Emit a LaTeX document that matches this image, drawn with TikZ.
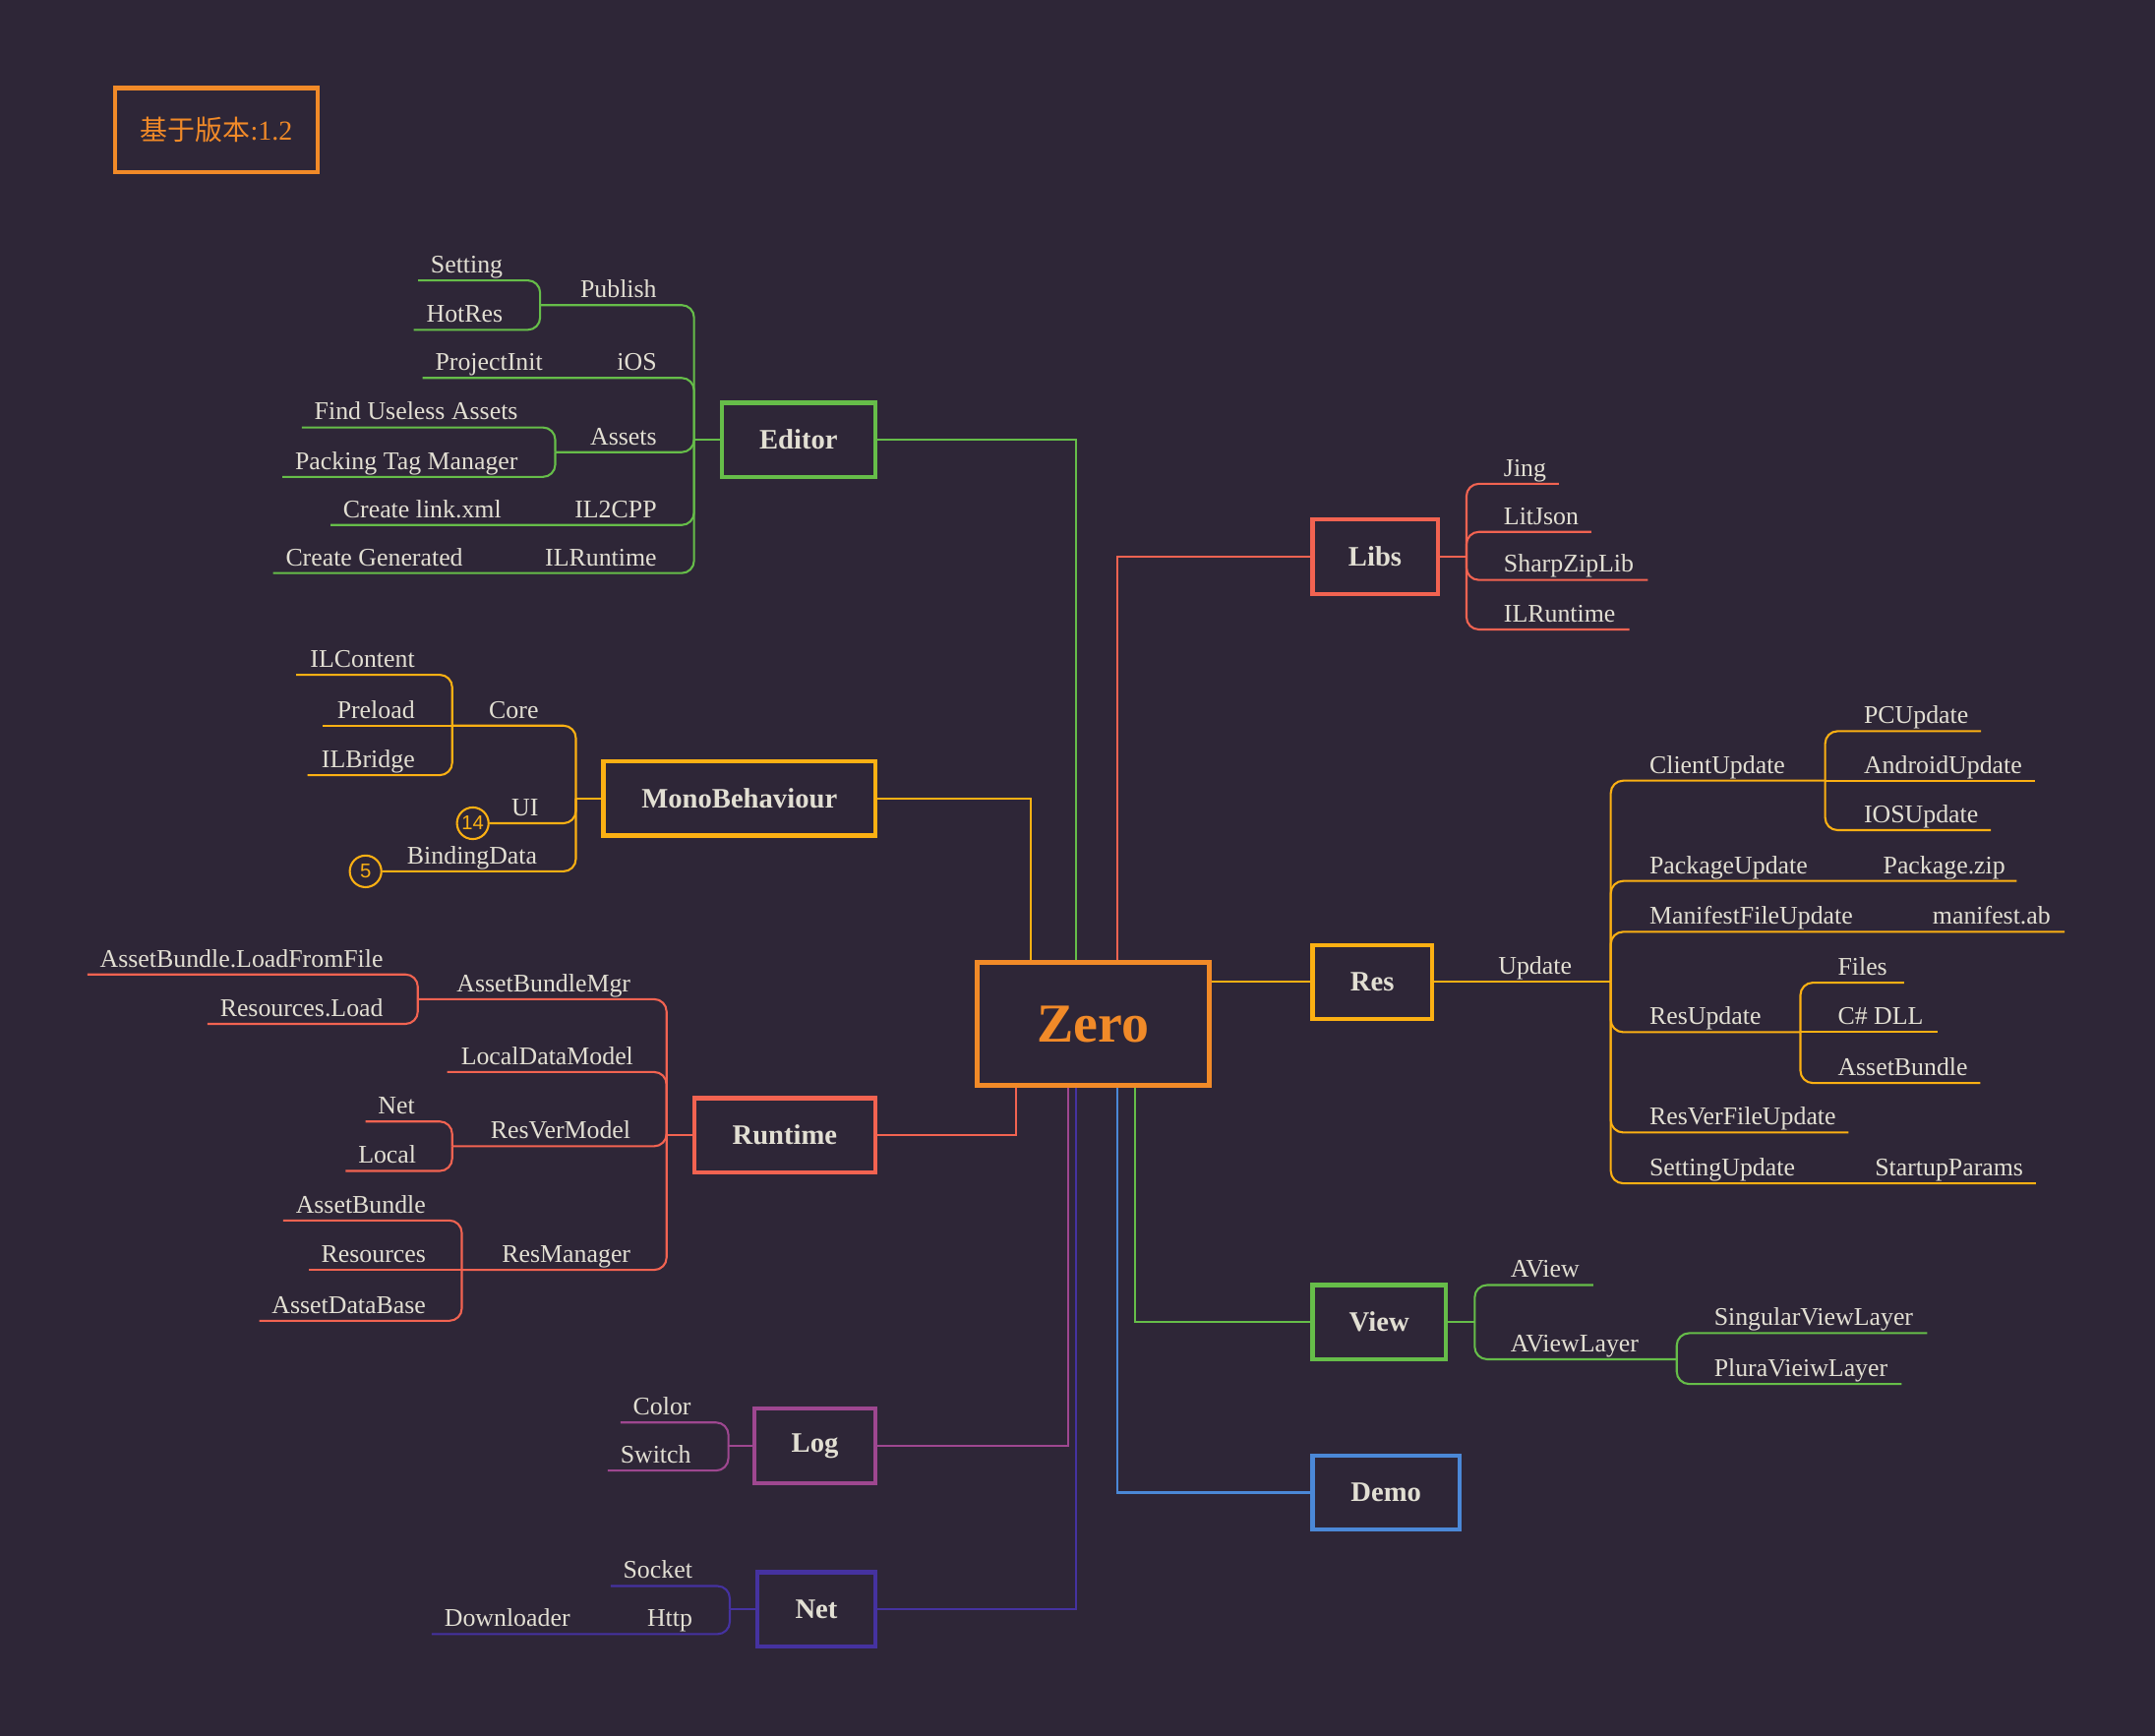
\documentclass[tikz,border=0pt]{standalone}
\usepackage{fontspec}
\setmainfont{Liberation Serif}
\newfontfamily\cjkf{Noto Sans CJK SC}
\newfontfamily\badgef{Liberation Sans}
\usetikzlibrary{calc}
\definecolor{bg}{HTML}{2E2637}
\definecolor{txt}{HTML}{E2DFD3}
\definecolor{cOrange}{HTML}{F18A28}
\definecolor{cGreen}{HTML}{66BD49}
\definecolor{cRed}{HTML}{F26351}
\definecolor{cYellow}{HTML}{FBB013}
\definecolor{cPurple}{HTML}{9E4790}
\definecolor{cIndigo}{HTML}{4532A0}
\definecolor{cBlue}{HTML}{4B88D7}
\begin{document}
\begin{tikzpicture}[x=1pt,y=-1pt,
  box/.style={draw, line width=3pt, inner sep=0pt, minimum height=54pt, text=txt, font=\fontsize{20.5}{24}\selectfont\bfseries},
  lbl/.style={text=txt, inner sep=0pt, font=\fontsize{18.5}{22}\selectfont},
  lL/.style={lbl, anchor=base east},
  lR/.style={lbl, anchor=base west},
  br/.style={line width=1.5pt, rounded corners=9pt},
  zc/.style={line width=1.5pt},
  badge/.style={circle, draw=cYellow, line width=1.5pt, minimum size=23pt, inner sep=0pt, text=cYellow, font=\badgef\fontsize{14.5}{14.5}\selectfont},
  ]
\fill[bg] (0,0) rectangle (1568,1263.1);
\useasboundingbox (0,0) rectangle (1568,1263.1);

% ---------- main nodes ----------
\node[draw=cOrange, line width=3pt, minimum width=147pt, minimum height=61pt, inner sep=0pt, text=cOrange, font=\fontsize{20}{24}\selectfont] (ver) at (157.5,94.5) {{\cjkf 基于版本}:1.2};
\node[box, draw=cOrange, line width=3.5pt, minimum width=169pt, minimum height=90pt, text=cOrange, font=\fontsize{40}{44}\selectfont\bfseries] (zero) at (795.5,745) {Zero};
\node[box, draw=cGreen, minimum width=112pt] (editor) at (581,320) {Editor};
\node[box, draw=cYellow, minimum width=198pt] (mono) at (538,581) {MonoBehaviour};
\node[box, draw=cRed, minimum width=132pt] (runtime) at (571,826) {Runtime};
\node[box, draw=cPurple, minimum width=88pt] (log) at (593,1052) {Log};
\node[box, draw=cIndigo, minimum width=86pt] (net) at (594,1171) {Net};
\node[box, draw=cRed, minimum width=91pt] (libs) at (1000.5,405) {Libs};
\node[box, draw=cYellow, minimum width=87pt] (res) at (998.5,714.5) {Res};
\node[box, draw=cGreen, minimum width=97pt] (view) at (1003.5,962) {View};
\node[box, draw=cBlue, minimum width=107pt] (demo) at (1008.5,1086) {Demo};

% ---------- connectors from Zero ----------
\draw[cGreen, zc] ([xshift=-12.5pt]zero.north) |- (editor.east);
\draw[cYellow, zc] ([xshift=-45.5pt]zero.north) |- (mono.east);
\draw[cRed, zc] ([xshift=17.5pt]zero.north) |- (libs.west);
\draw[cYellow, zc] (zero.east |- res.west) -- (res.west);
\draw[cRed, zc] ([xshift=-56.5pt]zero.south) |- (runtime.east);
\draw[cPurple, zc] ([xshift=-18.5pt]zero.south) |- (log.east);
\draw[cIndigo, zc] ([xshift=-12.5pt]zero.south) |- (net.east);
\draw[cBlue, zc] ([xshift=17.5pt]zero.south) |- (demo.west);
\draw[cGreen, zc] ([xshift=30.5pt]zero.south) |- (view.west);

% ---------- Editor ----------
\coordinate (eJ) at (505,320);
\draw[cGreen, br] (editor.west) -- (eJ);
\node[lL] (tPublish) at (478,216.5) {Publish};
\coordinate (ePub) at (393,222);
\draw[cGreen, br] (eJ) |- (ePub);
\node[lL] (tSetting) at (366,198.5) {Setting};
\node[lL] (tHotRes) at (366,234.5) {HotRes};
\draw[cGreen, br] (ePub) |- ($(tSetting.base west)+(-9,5.5)$);
\draw[cGreen, br] (ePub) |- ($(tHotRes.base west)+(-9,5.5)$);
\node[lL] (tiOS) at (478,269.5) {iOS};
\node[lL] (tProjectInit) at (395,269.5) {ProjectInit};
\draw[cGreen, br] (eJ) |- ($(tProjectInit.base west)+(-9,5.5)$);
\node[lL] (tAssets) at (478,323.5) {Assets};
\coordinate (eAs) at (404,329);
\draw[cGreen, br] (eJ) |- (eAs);
\node[lL] (tFind) at (377,305.5) {Find Useless Assets};
\node[lL] (tPack) at (377,341.5) {Packing Tag Manager};
\draw[cGreen, br] (eAs) |- ($(tFind.base west)+(-9,5.5)$);
\draw[cGreen, br] (eAs) |- ($(tPack.base west)+(-9,5.5)$);
\node[lL] (tIL2CPP) at (478,376.5) {IL2CPP};
\node[lL] (tLink) at (365,376.5) {Create link.xml};
\draw[cGreen, br] (eJ) |- ($(tLink.base west)+(-9,5.5)$);
\node[lL] (tILR) at (478,411.5) {ILRuntime};
\node[lL] (tGen) at (337,411.5) {Create Generated};
\draw[cGreen, br] (eJ) |- ($(tGen.base west)+(-9,5.5)$);

% ---------- MonoBehaviour ----------
\coordinate (mJ) at (419,581);
\draw[cYellow, br] (mono.west) -- (mJ);
\node[lL] (tCore) at (392,522.5) {Core};
\coordinate (mCore) at (329,528);
\draw[cYellow, br] (mJ) |- (mCore);
\node[lL] (tILContent) at (302,485.5) {ILContent};
\node[lL] (tPreload) at (302,522.5) {Preload};
\node[lL] (tILBridge) at (302,558.5) {ILBridge};
\draw[cYellow, br] (mCore) |- ($(tILContent.base west)+(-10,5.5)$);
\draw[cYellow, br] (mCore) -- ($(tPreload.base west)+(-10,5.5)$);
\draw[cYellow, br] (mCore) |- ($(tILBridge.base west)+(-10,5.5)$);
\node[lL] (tUI) at (392,593.5) {UI};
\node[badge] (b14) at (344,599) {14};
\draw[cYellow, br] (mJ) |- (b14.east);
\node[lL] (tBinding) at (391,628.5) {BindingData};
\node[badge] (b5) at (266,634) {5};
\draw[cYellow, br] (mJ) |- (b5.east);

% ---------- Runtime ----------
\coordinate (rJ) at (485,826);
\draw[cRed, br] (runtime.west) -- (rJ);
\node[lL] (tABM) at (459,721.5) {AssetBundleMgr};
\coordinate (rABM) at (304,727);
\draw[cRed, br] (rJ) |- (rABM);
\node[lL] (tLFF) at (279,703.5) {AssetBundle.LoadFromFile};
\node[lL] (tRL) at (279,739.5) {Resources.Load};
\draw[cRed, br] (rABM) |- ($(tLFF.base west)+(-9,5.5)$);
\draw[cRed, br] (rABM) |- ($(tRL.base west)+(-9,5.5)$);
\node[lL] (tLDM) at (461,774.5) {LocalDataModel};
\draw[cRed, br] (rJ) |- ($(tLDM.base west)+(-10,5.5)$);
\node[lL] (tRVM) at (459,828.5) {ResVerModel};
\coordinate (rRV) at (329,834);
\draw[cRed, br] (rJ) |- (rRV);
\node[lL] (tNet) at (302,810.5) {Net};
\node[lL] (tLocal) at (303,846.5) {Local};
\draw[cRed, br] (rRV) |- ($(tNet.base west)+(-9,5.5)$);
\draw[cRed, br] (rRV) |- ($(tLocal.base west)+(-9,5.5)$);
\node[lL] (tRM) at (459,918.5) {ResManager};
\coordinate (rRM) at (336,924);
\draw[cRed, br] (rJ) |- (rRM);
\node[lL] (tAB) at (310,882.5) {AssetBundle};
\node[lL] (tRes) at (310,918.5) {Resources};
\node[lL] (tADB) at (310,955.5) {AssetDataBase};
\draw[cRed, br] (rRM) |- ($(tAB.base west)+(-9,5.5)$);
\draw[cRed, br] (rRM) -- ($(tRes.base west)+(-9,5.5)$);
\draw[cRed, br] (rRM) |- ($(tADB.base west)+(-9,5.5)$);

% ---------- Log ----------
\coordinate (lJ) at (530,1052);
\draw[cPurple, br] (log.west) -- (lJ);
\node[lL] (tColor) at (503,1029.5) {Color};
\node[lL] (tSwitch) at (503,1064.5) {Switch};
\draw[cPurple, br] (lJ) |- ($(tColor.base west)+(-9,5.5)$);
\draw[cPurple, br] (lJ) |- ($(tSwitch.base west)+(-9,5.5)$);

% ---------- Net ----------
\coordinate (nJ) at (531,1171);
\draw[cIndigo, br] (net.west) -- (nJ);
\node[lL] (tSocket) at (504,1148.5) {Socket};
\draw[cIndigo, br] (nJ) |- ($(tSocket.base west)+(-9,5.5)$);
\node[lL] (tHttp) at (504,1183.5) {Http};
\node[lL] (tDown) at (415,1183.5) {Downloader};
\draw[cIndigo, br] (nJ) |- ($(tDown.base west)+(-9,5.5)$);

% ---------- Libs ----------
\coordinate (lbJ) at (1067,405);
\draw[cRed, br] (libs.east) -- (lbJ);
\node[lR] (tJing) at (1094,346.5) {Jing};
\node[lR] (tLit) at (1094,381.5) {LitJson};
\node[lR] (tSharp) at (1094,416.5) {SharpZipLib};
\node[lR] (tILR2) at (1094,452.5) {ILRuntime};
\draw[cRed, br] (lbJ) |- ($(tJing.base east)+(9,5.5)$);
\draw[cRed, br] (lbJ) |- ($(tLit.base east)+(9,5.5)$);
\draw[cRed, br] (lbJ) |- ($(tSharp.base east)+(10,5.5)$);
\draw[cRed, br] (lbJ) |- ($(tILR2.base east)+(10,5.5)$);

% ---------- Res ----------
\coordinate (uJ) at (1172,714.5);
\draw[cYellow, br] (res.east) -- (uJ);
\node[lR] (tUpdate) at (1090,708.5) {Update};
\node[lR] (tClient) at (1200,562.5) {ClientUpdate};
\coordinate (cJ) at (1328,568);
\draw[cYellow, br] (uJ) |- (cJ);
\node[lR] (tPC) at (1356,526.5) {PCUpdate};
\node[lR] (tAnd) at (1356,562.5) {AndroidUpdate};
\node[lR] (tIOS) at (1356,598.5) {IOSUpdate};
\draw[cYellow, br] (cJ) |- ($(tPC.base east)+(9,5.5)$);
\draw[cYellow, br] (cJ) -- ($(tAnd.base east)+(9,5.5)$);
\draw[cYellow, br] (cJ) |- ($(tIOS.base east)+(9,5.5)$);
\node[lR] (tPkgU) at (1200,635.5) {PackageUpdate};
\node[lR] (tPkgZ) at (1370,635.5) {Package.zip};
\draw[cYellow, br] (uJ) |- ($(tPkgZ.base east)+(8,5.5)$);
\node[lR] (tMan) at (1200,672.5) {ManifestFileUpdate};
\node[lR] (tManAb) at (1406,672.5) {manifest.ab};
\draw[cYellow, br] (uJ) |- ($(tManAb.base east)+(10,5.5)$);
\node[lR] (tResU) at (1200,745.5) {ResUpdate};
\coordinate (ruJ) at (1310,751);
\draw[cYellow, br] (uJ) |- (ruJ);
\node[lR] (tFiles) at (1337,709.5) {Files};
\node[lR] (tDLL) at (1337,745.5) {C\# DLL};
\node[lR] (tAB2) at (1337,782.5) {AssetBundle};
\draw[cYellow, br] (ruJ) |- ($(tFiles.base east)+(12,5.5)$);
\draw[cYellow, br] (ruJ) -- ($(tDLL.base east)+(10,5.5)$);
\draw[cYellow, br] (ruJ) |- ($(tAB2.base east)+(9,5.5)$);
\node[lR] (tRVF) at (1200,818.5) {ResVerFileUpdate};
\draw[cYellow, br] (uJ) |- ($(tRVF.base east)+(9,5.5)$);
\node[lR] (tSetU) at (1200,855.5) {SettingUpdate};
\node[lR] (tStart) at (1364,855.5) {StartupParams};
\draw[cYellow, br] (uJ) |- ($(tStart.base east)+(9,5.5)$);

% ---------- View ----------
\coordinate (vJ) at (1073,962);
\draw[cGreen, br] (view.east) -- (vJ);
\node[lR] (tAView) at (1099,929.5) {AView};
\draw[cGreen, br] (vJ) |- ($(tAView.base east)+(10,5.5)$);
\node[lR] (tAVL) at (1099,983.5) {AViewLayer};
\coordinate (avJ) at (1220,989);
\draw[cGreen, br] (vJ) |- (avJ);
\node[lR] (tSing) at (1247,964.5) {SingularViewLayer};
\node[lR] (tPlura) at (1247,1001.5) {PluraVieiwLayer};
\draw[cGreen, br] (avJ) |- ($(tSing.base east)+(10,5.5)$);
\draw[cGreen, br] (avJ) |- ($(tPlura.base east)+(10,5.5)$);
\end{tikzpicture}
\end{document}
